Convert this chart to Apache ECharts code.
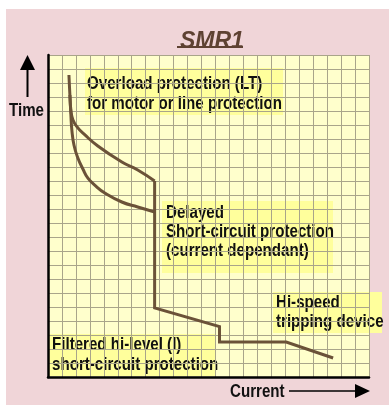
<!DOCTYPE html>
<html>
<head>
<meta charset="utf-8">
<script src="https://cdn.jsdelivr.net/npm/echarts@6/dist/echarts.min.js"></script>
<style>
  html, body { margin: 0; padding: 0; background: #fff; }
  #paper { position: absolute; left: 6px; top: 9px; right: 0; bottom: 0; background: #f0d5d8; }
  #container { position: absolute; left: 0; top: 0; width: 389px; height: 405px; }
</style>
</head>
<body>
<div id="paper"></div>
<div id="container"></div>
<script>
// curve points, in grid cells (current -> right, time -> up)
var upperCurrent = [1.5, 1.57, 1.64, 1.79, 2.14, 2.57, 3.57, 5.29, 6.43, 7.64];
var upperTime    = [21.57, 20.14, 19.07, 18.36, 17.79, 17.36, 16.5, 15.36, 14.79, 14.0];

var lowerCurrent = [1.57, 1.64, 1.71, 1.86, 2.14, 2.5, 2.86, 3.43, 4.07, 5.29, 6.43, 7.64];
var lowerTime    = [20.14, 18.71, 17.64, 16.57, 15.64, 14.86, 14.21, 13.64, 13.14, 12.5, 12.14, 11.79];

var stepCurrent  = [7.64, 7.64, 12.29, 12.29, 17.07, 20.43];
var stepTime     = [14.0, 4.93, 3.6, 2.5, 2.5, 1.36];

var gridCells = 23;

var dom = document.getElementById('container');
var myChart = echarts.init(dom, null, { renderer: 'canvas' });

var curveColor = '#6b5238';
var boxColor = '#ffff9c';
var textFont = 'bold 18px "Liberation Sans", Arial, sans-serif';
var squeeze = 0.84;

function pairs(xs, ys) {
  return xs.map(function (x, i) { return [x, ys[i]]; });
}

function label(x, y, text, lh) {
  return {
    type: 'text', x: x, y: y, scaleX: squeeze,
    style: { text: text, font: textFont, fill: '#111', lineHeight: lh || 20, verticalAlign: 'top' }
  };
}

function note(x, y, w, h, tx, ty, lh, text) {
  return {
    type: 'group',
    x: x, y: y,
    children: [
      { type: 'rect', shape: { x: 0, y: 0, width: w, height: h }, style: { fill: boxColor } },
      label(tx, ty, text, lh)
    ],
    z: 10
  };
}

var gridLine = { show: true, lineStyle: { color: '#a9a58a', width: 1 } };

var option = {
  animation: false,
  title: {
    text: 'SMR1',
    left: 175, top: 25,
    textStyle: { color: '#5e4232', fontSize: 23, fontWeight: 'bold', fontStyle: 'italic', fontFamily: 'Liberation Sans' }
  },
  grid: {
    left: 48, top: 55, width: 321, height: 322,
    show: true, backgroundColor: '#ffffcc', borderWidth: 0
  },
  xAxis: {
    type: 'value', min: 0, max: gridCells, interval: 1,
    axisLine: { show: true, lineStyle: { color: '#000', width: 2.5 } },
    axisTick: { show: false }, axisLabel: { show: false },
    splitLine: gridLine
  },
  yAxis: {
    type: 'value', min: 0, max: gridCells, interval: 1,
    axisLine: { show: true, lineStyle: { color: '#000', width: 2.5 } },
    axisTick: { show: false }, axisLabel: { show: false },
    splitLine: gridLine
  },
  series: [
    {
      type: 'line', data: pairs(upperCurrent, upperTime), smooth: 0.5,
      symbol: 'none', lineStyle: { color: curveColor, width: 3 }, z: 3
    },
    {
      type: 'line', data: pairs(lowerCurrent, lowerTime), smooth: 0.5,
      symbol: 'none', lineStyle: { color: curveColor, width: 3 }, z: 3
    },
    {
      type: 'line', data: pairs(stepCurrent, stepTime),
      symbol: 'none', lineStyle: { color: curveColor, width: 3, join: 'miter' }, z: 3
    }
  ],
  graphic: [
    // title underline
    { type: 'line', shape: { x1: 177, y1: 47, x2: 243, y2: 47 }, style: { stroke: '#5e4232', lineWidth: 2 } },
    // time arrow
    { type: 'line', shape: { x1: 27.5, y1: 66, x2: 27.5, y2: 97 }, style: { stroke: '#000', lineWidth: 2 } },
    { type: 'polygon', shape: { points: [[27.5, 55], [20, 70], [35, 70]] }, style: { fill: '#000' } },
    label(9, 101, 'Time'),
    // current arrow
    { type: 'line', shape: { x1: 289, y1: 391, x2: 357, y2: 391 }, style: { stroke: '#000', lineWidth: 1.5 } },
    { type: 'polygon', shape: { points: [[370, 391], [355, 384], [355, 398]] }, style: { fill: '#000' } },
    label(230, 382, 'Current'),
    // notes
    note(85, 68, 198, 47, 2, 6, 20, 'Overload protection (LT)\nfor motor or line protection'),
    note(162, 201, 171, 72, 4, 3, 19, 'Delayed\nShort-circuit protection\n(current dependant)'),
    note(273, 292, 109, 41, 3, 2, 19, 'Hi-speed\ntripping device'),
    note(49, 334, 166, 42, 3, 1, 20, 'Filtered hi-level (I)\nshort-circuit protection')
  ]
};

myChart.setOption(option);
window.addEventListener('resize', myChart.resize);
</script>
</body>
</html>
